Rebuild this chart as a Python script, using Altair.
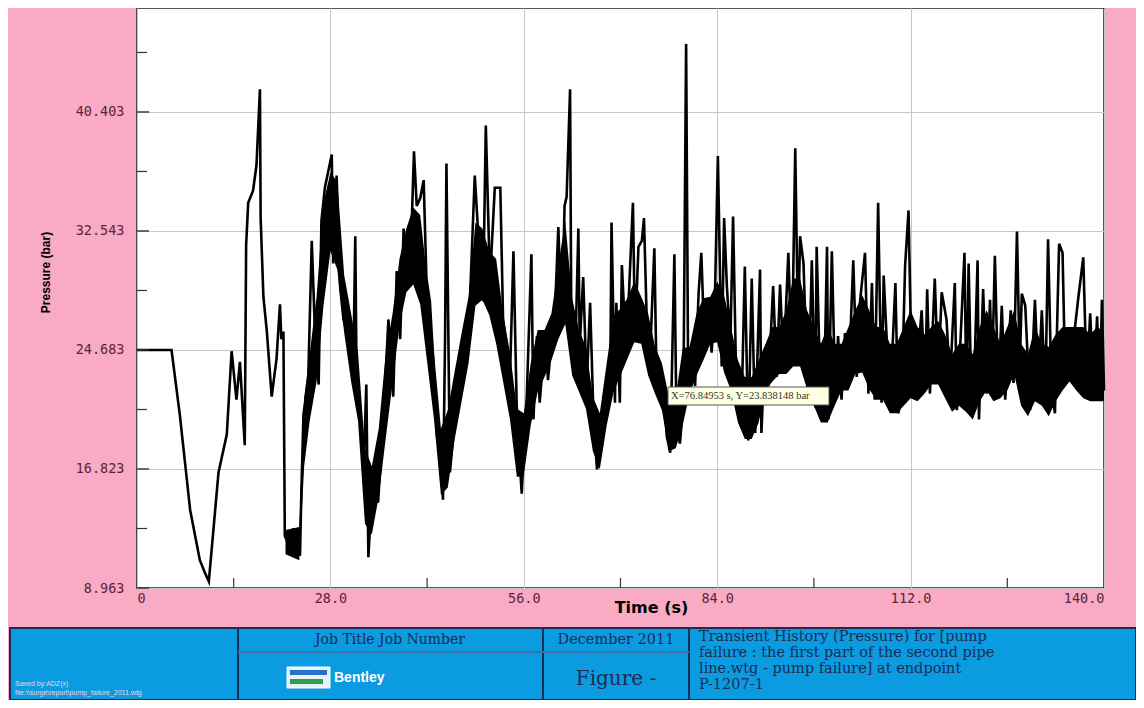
import altair as alt
import pandas as pd

# ---------------- data ----------------
x_major = [0, 28, 56, 84, 112, 140]
x_minor = [14, 42, 70, 98, 126]
y_major = [8.963, 16.823, 24.683, 32.543, 40.403]
y_minor = [12.893, 20.753, 28.613, 36.473, 44.333]

# pressure trace (time s, pressure bar), in four stretches
seg1 = [(0, 24.683), (5.0, 24.683), (6.2, 20.4), (7.7, 14.1), (9.1, 10.8), (9.8, 10.0),
        (10.4, 9.4), (11.8, 16.6), (13.0, 19.1), (13.7, 24.6), (14.4, 21.4), (14.9, 23.9),
        (15.6, 18.4), (15.8, 31.6), (16.1, 34.4), (16.8, 35.2), (17.3, 36.9), (17.8, 41.9),
        (17.9, 33.4), (18.3, 28.2), (18.8, 25.9), (19.5, 21.6), (20.2, 24.1), (20.7, 27.7),
        (20.9, 25.4), (21.2, 25.9), (21.4, 12.4), (21.7, 12.1), (22.1, 11.6), (22.6, 12.9),
        (23.1, 11.9), (23.6, 11.1), (23.8, 15.4), (24.1, 20.4), (24.8, 22.9), (25.3, 31.9),
        (25.8, 25.4), (26.3, 22.4), (26.7, 33.2), (27.2, 35.4), (28.2, 37.6), (28.4, 30.4),
        (28.9, 36.2), (29.4, 28.9), (29.9, 26.7), (30.6, 25.4), (31.3, 22.9), (31.6, 32.2),
        (31.8, 22.4), (32.3, 20.4), (32.8, 16.6), (33.2, 22.4), (33.5, 11.0), (34.0, 15.4),
        (34.5, 16.6), (34.9, 14.6), (35.7, 20.4), (36.4, 26.7), (37.1, 21.6), (37.6, 29.9),
        (38.1, 25.4), (38.6, 32.7), (39.3, 30.4), (39.8, 33.4), (40.1, 37.8), (40.5, 34.2),
        (41.0, 34.7), (41.5, 35.9), (41.9, 29.4), (42.4, 27.9), (42.9, 23.9), (43.4, 19.1),
        (43.9, 17.9), (44.3, 14.8), (44.6, 25.4), (44.8, 37.0), (45.3, 16.6), (45.8, 19.1),
        (46.5, 21.6), (47.2, 24.4), (48.2, 27.9), (48.9, 36.2), (49.4, 32.4), (50.1, 27.9),
        (50.5, 39.5), (51.1, 29.2), (51.8, 35.4), (52.6, 35.4), (53.0, 26.7), (54.0, 22.9),
        (54.5, 31.2), (55.0, 20.4), (55.7, 15.2)]
seg2 = [(55.9, 17.2), (56.4, 21.2), (57.1, 31.0), (57.4, 20.1), (57.9, 25.6), (58.3, 21.2),
        (59.1, 25.8), (59.5, 22.7), (60.0, 25.1), (60.5, 27.1), (61.0, 32.8), (61.2, 30.0),
        (61.5, 26.1), (61.9, 34.2), (62.2, 34.8), (62.7, 41.9), (62.9, 24.5), (63.4, 23.4),
        (63.9, 32.7), (64.1, 25.0), (64.6, 29.5), (65.1, 22.3), (65.6, 27.8), (66.1, 20.1),
        (66.6, 16.8), (67.3, 18.3), (67.8, 21.2), (68.5, 21.8), (68.7, 33.1), (69.2, 21.2),
        (69.4, 27.8), (69.9, 21.2), (70.2, 30.3), (70.7, 25.6), (71.2, 28.2), (71.8, 34.4),
        (72.1, 25.6), (72.6, 31.5), (73.1, 31.9), (73.4, 33.4), (73.8, 26.6), (74.3, 24.5),
        (74.9, 31.4), (75.2, 23.4), (75.7, 23.2), (76.2, 22.3), (76.7, 19.0), (77.2, 17.9),
        (77.8, 31.0), (78.1, 20.1), (78.6, 18.5), (79.1, 21.2), (79.5, 44.9), (79.8, 22.3),
        (80.3, 24.5), (80.8, 22.3), (81.3, 28.4), (81.7, 31.1), (82.2, 24.5), (82.7, 27.1),
        (83.2, 24.5), (83.7, 28.8), (84.1, 37.5)]
seg3 = [(84.65, 23.6), (85.0, 33.4), (85.4, 28.9), (85.9, 25.1), (86.3, 33.5), (86.8, 21.4),
        (87.5, 20.3), (88.0, 30.2), (88.5, 18.7), (89.0, 29.4), (89.5, 19.2), (90.2, 30.0),
        (90.4, 19.2), (90.9, 24.7), (91.4, 22.3), (92.1, 28.9), (92.6, 22.9), (93.1, 29.0),
        (93.6, 23.6), (94.3, 31.1), (94.8, 23.8), (95.3, 38.0), (95.7, 25.8), (96.0, 32.2),
        (96.5, 30.4), (97.0, 22.9), (97.2, 21.4), (97.7, 30.6), (98.2, 20.9), (98.4, 31.5),
        (98.9, 22.5), (99.4, 20.1), (99.9, 31.5), (100.1, 20.1), (100.6, 31.2), (101.1, 21.4),
        (101.5, 25.6), (102.0, 21.4), (102.5, 25.8), (103.0, 22.3), (103.7, 30.6), (104.2, 22.9),
        (104.7, 28.0), (105.4, 31.1), (105.9, 21.8), (106.4, 29.1), (106.8, 21.4), (107.3, 34.4),
        (107.8, 21.2), (108.1, 29.6), (108.5, 25.8), (109.0, 20.9), (109.8, 29.1), (110.2, 20.5),
        (110.7, 21.4), (111.2, 30.2), (111.7, 33.9), (112.2, 22.0)]
seg4 = [(112.6, 25.8), (113.1, 24.5), (113.6, 27.3), (114.1, 22.0), (114.4, 28.7), (114.8, 21.8),
        (115.5, 29.4), (116.0, 22.9), (116.5, 28.5), (117.2, 26.7), (117.7, 22.5), (118.4, 29.1),
        (118.7, 20.7), (119.2, 25.1), (119.8, 31.1), (120.1, 20.9), (120.4, 30.4), (120.8, 21.4),
        (121.3, 24.2), (121.7, 30.6), (121.9, 20.1), (122.5, 28.7), (123.0, 21.8), (123.5, 28.0),
        (123.8, 23.1), (124.2, 30.9), (124.7, 21.8), (125.2, 27.6), (125.7, 21.4), (126.5, 27.3),
        (126.9, 22.5), (127.4, 32.5), (127.8, 23.6), (128.1, 28.4), (128.6, 27.6), (129.3, 20.7),
        (130.0, 28.0), (130.5, 22.5), (131.0, 27.3), (131.5, 21.4), (131.9, 32.0), (132.4, 22.0),
        (132.9, 20.5), (133.5, 31.7), (134.0, 31.1), (134.4, 22.5), (134.8, 25.8), (135.3, 23.6),
        (135.8, 26.2), (136.3, 28.2), (137.0, 30.8), (137.5, 22.5), (138.0, 27.1), (138.5, 21.8),
        (139.0, 26.9), (139.4, 21.8), (139.7, 28.0), (140.0, 22.0)]

# dense oscillation core (time, lower, upper)
band_t = [21.5, 23.5, 24.2, 25, 26, 27, 28, 29, 30, 31, 32, 33, 34, 35, 36, 37, 38, 39, 40,
          41, 42, 43, 44, 45, 46, 47, 48, 49, 50, 51, 52, 53, 54, 55, 56, 57, 58, 59, 60,
          61, 62, 63, 64, 65, 66, 67, 68, 69, 70, 71, 72, 73, 74, 75, 76, 77, 78, 79, 80,
          81, 82, 83, 84, 85, 86, 87, 88, 89, 90, 91, 92, 93, 94, 95, 96, 97, 98, 99, 100,
          101, 102, 103, 104, 105, 106, 107, 108, 109, 110, 111, 112, 113, 114, 115, 116,
          117, 118, 119, 120, 121, 122, 123, 124, 125, 126, 127, 128, 129, 130, 131, 132,
          133, 134, 135, 136, 137, 138, 139, 140]
band_lo = [11.2, 10.8, 17.0, 20.0, 22.6, 27.6, 31.2, 30.0, 25.8, 22.6, 20.0, 13.2, 12.5, 15.0,
           18.8, 22.5, 26.3, 28.5, 29.0, 27.7, 23.9, 20.1, 15.1, 15.6, 18.8, 21.3, 23.8, 27.6,
           28.0, 27.0, 25.1, 22.6, 20.1, 16.3, 16.4, 19.7, 21.9, 22.9, 24.0, 25.4, 26.4, 23.0,
           21.9, 20.8, 18.0, 16.8, 19.7, 21.9, 23.0, 24.1, 25.2, 25.1, 23.0, 21.8, 20.7, 18.0,
           18.2, 19.7, 21.8, 23.0, 24.0, 25.1, 25.2, 23.2, 22.0, 19.9, 18.8, 18.8, 19.9, 22.0,
           22.6, 23.1, 23.1, 23.6, 23.6, 22.1, 21.0, 19.9, 19.9, 21.0, 22.0, 22.0, 23.1, 23.2,
           22.1, 21.4, 21.4, 20.5, 20.5, 21.0, 21.5, 21.3, 21.8, 22.4, 22.4, 21.5, 20.6, 21.0,
           20.6, 20.1, 21.3, 22.0, 21.3, 21.5, 22.0, 23.1, 21.0, 20.3, 21.3, 21.0, 20.3, 21.3,
           22.0, 22.6, 22.0, 21.5, 21.3, 21.3, 21.3]
band_hi = [12.8, 13.0, 21.5, 24.4, 28.2, 34.4, 36.4, 35.8, 29.6, 27.1, 24.5, 18.2, 17.0, 19.5,
           24.4, 27.1, 30.7, 32.7, 34.1, 33.6, 29.5, 24.5, 19.5, 20.7, 23.3, 25.8, 28.2, 33.1,
           32.7, 31.2, 30.7, 27.1, 24.5, 20.8, 20.5, 23.8, 26.0, 26.0, 27.1, 30.3, 33.2, 28.1,
           26.0, 24.9, 21.6, 20.5, 23.8, 27.0, 27.4, 28.1, 29.2, 28.2, 27.1, 24.9, 23.8, 21.6,
           21.6, 24.8, 24.9, 27.1, 28.1, 28.2, 29.2, 28.3, 26.2, 24.0, 22.9, 22.9, 24.0, 25.1,
           26.2, 26.2, 27.3, 29.4, 29.4, 27.3, 26.2, 25.1, 26.2, 25.1, 25.1, 26.2, 27.3, 28.3,
           27.3, 26.2, 26.2, 25.1, 25.1, 26.2, 27.3, 26.2, 25.7, 26.2, 26.6, 25.7, 24.4, 25.1,
           25.1, 24.4, 26.2, 27.3, 26.2, 25.1, 26.2, 27.3, 25.1, 24.4, 26.2, 25.1, 24.9, 25.7,
           26.2, 26.2, 26.2, 26.2, 25.7, 26.2, 25.9]

title_lines = ["Transient History (Pressure) for [pump",
               "failure : the first part of the second pipe",
               "line.wtg - pump failure] at endpoint",
               "P-1207-1"]
footer_small = ["Saved by:ADZ(x)", "file:\\\\surge\\report\\pump_failure_2011.wtg"]

# ---------------- layout ----------------
W, H = 967, 580
PINK = "#f9aac4"
BLUE = "#0a9be1"
NAVY = "#1c2d55"
LABEL = "#5e2438"
xs = alt.Scale(domain=[0, 140], nice=False, zero=False)
ys = alt.Scale(domain=[8.963, 47.27], nice=False, zero=False)

line_df = pd.DataFrame(seg1 + seg2 + seg3 + seg4, columns=["t", "p"])
band_df = pd.DataFrame({"t": band_t, "lo": band_lo, "hi": band_hi})
one = pd.DataFrame({"a": [0]})

x_axis = alt.Axis(values=x_major,
                  labelExpr="datum.value == 0 ? '0' : format(datum.value, '.1f')",
                  grid=True, gridColor="#c6c6c6", gridWidth=1, tickSize=0, domain=False,
                  labelFont="DejaVu Sans Mono", labelFontSize=13.5, labelColor=LABEL,
                  labelPadding=3, title="Time (s)", titleFont="DejaVu Sans",
                  titleFontSize=16, titleFontWeight="bold", titleColor="black",
                  titleX=514, titleY=19, titleAlign="center", titleBaseline="middle")
y_axis = alt.Axis(values=y_major, format=".3f", grid=True, gridColor="#c6c6c6",
                  gridWidth=1, tickSize=0, domain=False, labelFont="DejaVu Sans Mono",
                  labelFontSize=13.5, labelColor=LABEL, labelPadding=13,
                  title="Pressure (bar)", titleFont="Liberation Sans", titleFontSize=12,
                  titleFontWeight="bold", titleColor="black", titleX=-92, titleY=264,
                  titleAlign="center", titleBaseline="middle")

# axis-only layer (draws grid, labels and titles underneath everything)
axes_layer = alt.Chart(line_df).mark_point(opacity=0).encode(
    x=alt.X("t:Q", scale=xs, axis=x_axis),
    y=alt.Y("p:Q", scale=ys, axis=y_axis))

band = alt.Chart(band_df).mark_area(color="black", opacity=1).encode(
    x=alt.X("t:Q", scale=xs, axis=None),
    y=alt.Y("lo:Q", scale=ys, axis=None),
    y2="hi:Q")
line = alt.Chart(line_df).mark_line(color="black", strokeWidth=2.6).encode(
    x=alt.X("t:Q", scale=xs, axis=None),
    y=alt.Y("p:Q", scale=ys, axis=None))

xt_df = pd.DataFrame({"t": x_minor})
xticks = alt.Chart(xt_df).mark_rule(color="#333333", strokeWidth=1.2).encode(
    x=alt.X("t:Q", scale=xs, axis=None), y=alt.value(H), y2=alt.value(H - 10))
ytm_df = pd.DataFrame({"v": y_minor})
yticks_minor = alt.Chart(ytm_df).mark_rule(color="#333333", strokeWidth=1.2).encode(
    y=alt.Y("v:Q", scale=ys, axis=None), x=alt.value(0), x2=alt.value(10))
ytM_df = pd.DataFrame({"v": y_major})
yticks_major = alt.Chart(ytM_df).mark_rule(color="#333333", strokeWidth=1.4).encode(
    y=alt.Y("v:Q", scale=ys, axis=None), x=alt.value(0), x2=alt.value(12))

# tooltip-like annotation box
tip_box = alt.Chart(one).mark_rect(fill="#ffffe1", stroke="#555555", strokeWidth=1).encode(
    x=alt.value(531), x2=alt.value(692), y=alt.value(379), y2=alt.value(397))
tip_txt = alt.Chart(one).mark_text(text="X=76.84953 s, Y=23.838148 bar", align="left",
                                   baseline="middle", font="Liberation Serif", fontSize=10.5,
                                   color="#333333").encode(x=alt.value(534), y=alt.value(388))

# title block
blk = alt.Chart(one).mark_rect(fill=BLUE, stroke=NAVY, strokeWidth=2).encode(
    x=alt.value(-127), x2=alt.value(999), y=alt.value(620), y2=alt.value(692))
vlines = [alt.Chart(one).mark_rule(color=NAVY, strokeWidth=2).encode(
    x=alt.value(xv), y=alt.value(620), y2=alt.value(692)) for xv in (101, 406, 552)]
hline = alt.Chart(one).mark_rule(color="#3f6fa8", strokeWidth=2).encode(
    x=alt.value(101), x2=alt.value(552), y=alt.value(644))

def txt(s, x, y, size, align="center", font="DejaVu Serif", color=NAVY, weight="normal"):
    return alt.Chart(one).mark_text(text=s, align=align, baseline="middle", font=font,
                                    fontSize=size, color=color, fontWeight=weight).encode(
        x=alt.value(x), y=alt.value(y))

texts = [txt("Job Title  Job Number", 253, 632, 14),
         txt("December 2011", 479, 632, 14.5),
         txt("Figure -", 479, 671, 20)]
for i, s in enumerate(title_lines):
    texts.append(txt(s, 562, 629 + 16 * i, 14.5, align="left"))
for i, s in enumerate(footer_small):
    texts.append(txt(s, -122, 676 + 9 * i, 7, align="left", font="Liberation Sans",
                     color="#f6cfe0"))

logo = [alt.Chart(one).mark_rect(fill="#e4f2fb", stroke="#ffffff", strokeWidth=1).encode(
            x=alt.value(150), x2=alt.value(193), y=alt.value(659), y2=alt.value(680)),
        alt.Chart(one).mark_rect(fill="#2a6fc9").encode(
            x=alt.value(153), x2=alt.value(190), y=alt.value(662), y2=alt.value(667)),
        alt.Chart(one).mark_rect(fill="#2fa04a").encode(
            x=alt.value(153), x2=alt.value(186), y=alt.value(671), y2=alt.value(676)),
        txt("Bentley", 197, 670, 14, align="left", font="Liberation Sans",
            color="#ffffff", weight="bold")]

chart = alt.layer(axes_layer, band, line, xticks, yticks_minor, yticks_major, tip_box, tip_txt,
                  blk, *vlines, hline, *logo, *texts).resolve_axis(
    x="independent", y="independent").properties(
    width=W, height=H,
    padding={"left": 129, "top": 0, "right": 32, "bottom": 112},
    autosize=alt.AutoSizeParams(type="none"),
).configure(background=PINK).configure_view(fill="white", stroke="#1e1e1e", strokeWidth=1.5)

chart.save("out.html", embed_options={"renderer": "svg", "actions": False})
